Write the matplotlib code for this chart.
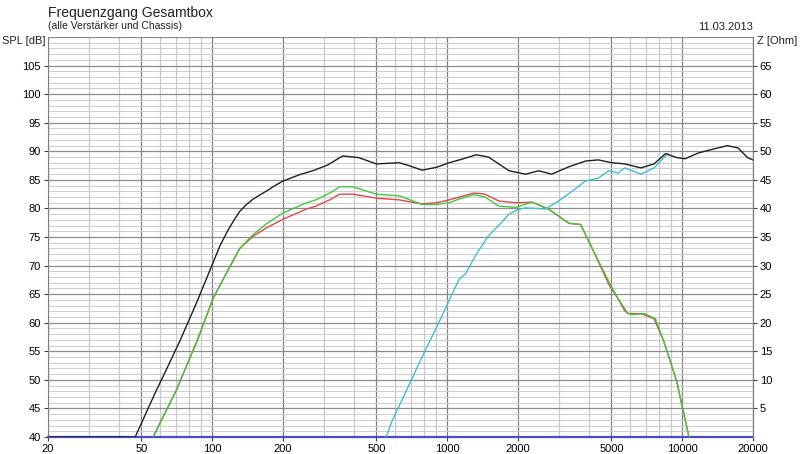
import numpy as np
import matplotlib
matplotlib.use('Agg')
import matplotlib.pyplot as plt
from matplotlib.ticker import FixedLocator, NullLocator

plt.rcParams['font.family'] = ['Liberation Sans', 'DejaVu Sans']

# gesamt (black)
f_total = [20, 47, 57, 65, 73, 86, 101, 108, 116, 124, 131, 140, 149, 160, 171, 185, 200, 235,
           268, 310, 359, 420, 500, 626, 700, 782, 900, 1020, 1150, 1330, 1500, 1834, 2160,
           2450, 2785, 3300, 3880, 4400, 5030, 5700, 6680, 7600, 8500, 9500, 10300, 11700,
           13300, 15600, 17300, 19000, 20000]
spl_total = [40, 40, 47.6, 52.5, 56.9, 63.6, 70.6, 73.5, 76.0, 78.0, 79.5, 80.7, 81.6, 82.4,
             83.1, 84.0, 84.8, 85.9, 86.6, 87.6, 89.2, 88.9, 87.8, 88.0, 87.4, 86.7, 87.2,
             88.0, 88.6, 89.4, 89.0, 86.6, 86.0, 86.6, 86.0, 87.3, 88.3, 88.5, 88.0, 87.8,
             87.1, 87.8, 89.6, 88.9, 88.7, 89.7, 90.3, 91.0, 90.6, 88.9, 88.5]

# tieftoener (red)
f_woofer = [56, 70, 86, 101, 116, 131, 149, 170, 200, 252, 276, 320, 348, 397, 500, 626, 782,
            900, 1020, 1150, 1300, 1450, 1660, 1958, 2300, 2700, 3300, 3700, 4200, 4880, 5870,
            6680, 7600, 8370, 8720, 9500, 9850, 10700]
spl_woofer = [40, 48.0, 56.7, 64.3, 69.0, 73.0, 75.1, 76.6, 78.1, 79.9, 80.4, 81.6, 82.5, 82.5,
              81.8, 81.5, 80.8, 81.0, 81.5, 82.1, 82.7, 82.5, 81.3, 81.0, 81.1, 79.9, 77.4, 77.2,
              72.5, 66.7, 61.6, 61.6, 60.7, 56.7, 54.4, 49.7, 46.7, 40.0]

# weiche gesamt (green)
f_mid = [56, 70, 86, 101, 116, 131, 149, 170, 200, 252, 276, 320, 348, 397, 500, 626, 782,
         900, 1020, 1150, 1300, 1450, 1660, 1958, 2300, 2700, 3300, 3700, 4200, 4880, 5700,
         6100, 6930, 7700, 8370, 8720, 9500, 9850, 10700]
spl_mid = [40, 48.0, 56.7, 64.3, 69.0, 73.0, 75.4, 77.3, 79.2, 81.0, 81.5, 82.8, 83.8, 83.8,
           82.5, 82.2, 80.7, 80.7, 81.0, 81.8, 82.4, 82.0, 80.4, 80.2, 81.1, 79.9, 77.4, 77.2,
           72.5, 67.2, 62.0, 61.4, 61.6, 60.7, 56.7, 54.4, 49.7, 46.7, 40.0]

# hochtoener (cyan)
f_tweeter = [550, 580, 688, 814, 926, 970, 1124, 1200, 1330, 1500, 1700, 1834, 2000, 2160,
             2400, 2620, 2980, 3400, 3880, 4400, 4880, 5350, 5700, 6680, 7600, 8370, 8720]
spl_tweeter = [40, 42.6, 49.1, 55.5, 60.2, 62.0, 67.6, 68.6, 72.0, 75.2, 77.5, 79.0, 79.8, 80.1,
               80.0, 79.9, 81.3, 83.0, 84.8, 85.3, 86.6, 86.2, 87.1, 86.0, 87.1, 88.9, 89.6]

# impedanz (blue, at 0 Ohm)
f_imp = [20, 20000]
z_imp = [0, 0]

x_labels = [20, 50, 100, 200, 500, 1000, 2000, 5000, 10000, 20000]
minor_x = [30, 40, 60, 70, 80, 90, 300, 400, 600, 700, 800, 900,
           3000, 4000, 6000, 7000, 8000, 9000]

fig = plt.figure(figsize=(8, 4.54), dpi=100)
ax = fig.add_axes([0.06, 0.0374, 0.881, 0.881])

ax.set_xscale('log')
ax.set_xlim(20, 20000)
ax.set_ylim(40, 110)

for v in minor_x:
    ax.axvline(v, color='#c8c8c8', lw=0.9, zorder=0)
for v in x_labels:
    ax.axvline(v, color='#808080', lw=0.9, zorder=0)
for v in range(41, 110):
    if v % 5:
        ax.axhline(v, color='#cfcfcf', lw=0.8, zorder=0)
for v in range(45, 111, 5):
    ax.axhline(v, color='#8c8c8c', lw=0.9, zorder=0)

ax.plot(f_imp, [z + 40 for z in z_imp], color='#4a4acc', lw=1.6, zorder=2, clip_on=False)
ax.plot(f_woofer, spl_woofer, color='#e04848', lw=1.0, zorder=3)
ax.plot(f_mid, spl_mid, color='#40c840', lw=1.0, zorder=4)
ax.plot(f_tweeter, spl_tweeter, color='#40c0d0', lw=1.0, zorder=4)
ax.plot(f_total, spl_total, color='#202020', lw=1.0, zorder=5)

ax.xaxis.set_major_locator(FixedLocator(x_labels))
ax.xaxis.set_minor_locator(NullLocator())
ax.set_xticklabels([str(v) for v in x_labels])
ax.set_yticks(range(40, 110, 5))
ax.tick_params(axis='both', labelsize=8, length=3, width=0.8, color='#404040', pad=2)

ax.spines['top'].set_visible(False)
ax.spines['bottom'].set_visible(False)
ax.spines['left'].set_color('#808080')
ax.spines['right'].set_color('#808080')

ax2 = ax.twinx()
ax2.set_ylim(0, 70)
ax2.set_yticks(range(5, 70, 5))
ax2.tick_params(axis='y', labelsize=8, length=3, width=0.8, color='#404040', pad=2)
for side in ['top', 'bottom', 'left']:
    ax2.spines[side].set_visible(False)
ax2.spines['right'].set_color('#808080')

fig.text(0.06, 0.972, 'Frequenzgang Gesamtbox', fontsize=10, ha='left', va='center', color='#202020')
fig.text(0.06, 0.943, '(alle Verstärker und Chassis)', fontsize=7.5, ha='left', va='center', color='#202020')
fig.text(0.941, 0.941, '11.03.2013', fontsize=8, ha='right', va='center', color='#202020')
fig.text(0.003, 0.91, 'SPL [dB]', fontsize=8, ha='left', va='center', color='#202020')
fig.text(0.946, 0.91, 'Z [Ohm]', fontsize=8, ha='left', va='center', color='#202020')

fig.savefig('out.png', dpi=100)
